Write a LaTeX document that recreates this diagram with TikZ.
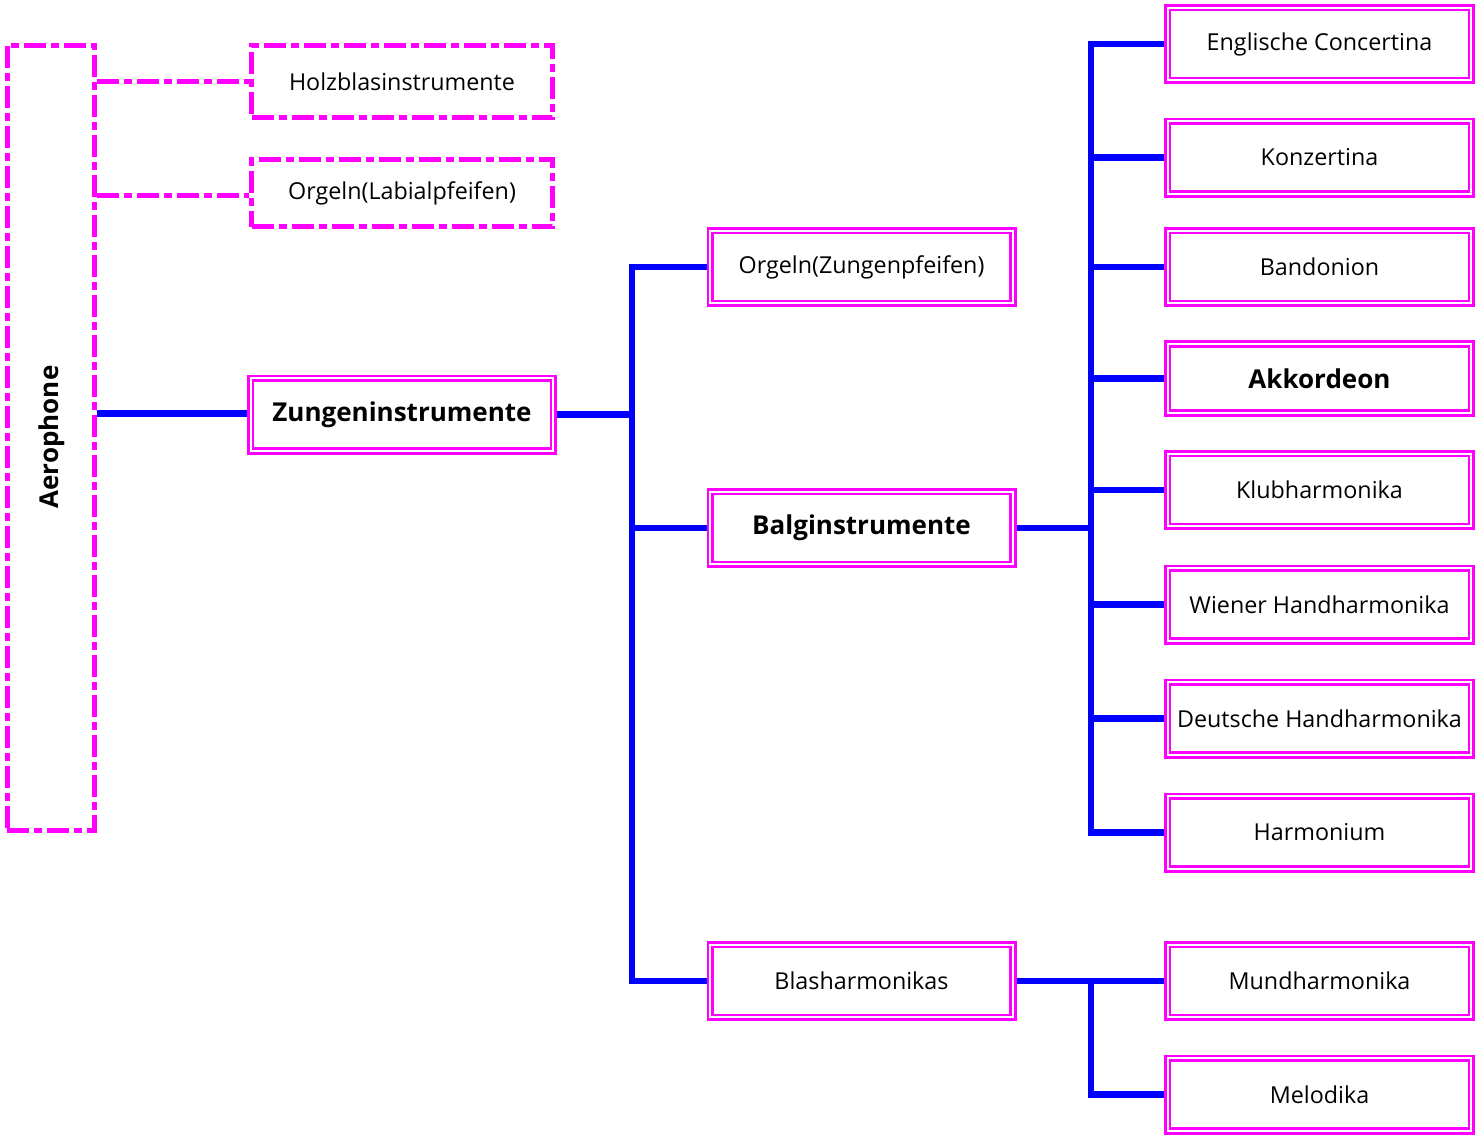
\documentclass[tikz,border=0pt]{standalone}
\usepackage{fontspec}
\setmainfont{Open Sans}
\usetikzlibrary{backgrounds}
\definecolor{boxpink}{HTML}{FF00FF}
\definecolor{linkblue}{HTML}{0000FF}
\begin{document}
\begin{tikzpicture}[x=1pt,y=-1pt,
  every node/.style={inner sep=0pt, align=center},
  dashbox/.style={draw=boxpink, line width=5pt, rectangle, fill=white,
    dash pattern=on 22pt off 5pt on 8pt off 5pt, minimum width=301pt},
  dashlink/.style={draw=boxpink, line width=5pt,
    dash pattern=on 22pt off 5pt on 8pt off 5pt},
  dbox/.style={draw=boxpink, double=white, line width=2.6pt, double distance=2pt,
    rectangle, fill=white, minimum width=302.8pt, minimum height=72.8pt,
    font=\fontsize{23.3}{28}\selectfont},
  boldbox/.style={dbox, font=\fontsize{26}{30}\selectfont\bfseries},
  rightbox/.style={dbox, minimum width=303.8pt},
  link/.style={draw=linkblue, line width=6.8pt, line join=miter}]
\useasboundingbox (0,0) rectangle (1476,1136);

% root and the two dashed branches
\node[dashbox, minimum width=87pt, minimum height=785pt] (aero) at (50.5,437.5) {};
\node[rotate=90, font=\fontsize{26}{30}\selectfont\bfseries] (aerolabel) at (52,437) {Aerophone};
\node[dashbox, minimum height=72pt, font=\fontsize{23.3}{28}\selectfont] (holz) at (402,81.5) {Holzblasinstrumente};
\node[dashbox, minimum height=67pt, font=\fontsize{23.3}{28}\selectfont] (orgl) at (402,193) {Orgeln(Labialpfeifen)};

% first level
\node[boldbox] (zung) at (402,414.5) {Zungeninstrumente};

% second level
\node[dbox] (orgz) at (861.5,267) {Orgeln(Zungenpfeifen)};
\node[boldbox] (balg) at (861.5,528) {Balginstrumente};
\node[dbox] (blas) at (861.5,981) {Blasharmonikas};

% third level
\node[rightbox] (engl) at (1319.5,44) {Englische Concertina};
\node[rightbox] (konz) at (1319.5,157.5) {Konzertina};
\node[rightbox] (band) at (1319.5,267) {Bandonion};
\node[boldbox, minimum width=303.8pt, minimum height=69pt] (akk) at (1319.5,378.5) {Akkordeon};
\node[rightbox] (klub) at (1319.5,490) {Klubharmonika};
\node[rightbox] (wien) at (1319.5,604.5) {Wiener Handharmonika};
\node[rightbox] (deut) at (1319.5,718.5) {Deutsche Handharmonika};
\node[rightbox] (harm) at (1319.5,832.5) {Harmonium};
\node[rightbox] (mund) at (1319.5,981) {Mundharmonika};
\node[rightbox] (melo) at (1319.5,1094.5) {Melodika};

% junction columns
\coordinate (j1) at (632,0);
\coordinate (j2) at (1091,0);
\coordinate (ly) at (0,195);
\coordinate (zy) at (0,413.5);

\begin{scope}[on background layer]
  % dashed links from the root
  \draw[dashlink] (aero.east |- holz.west) -- (holz.west);
  \draw[dashlink] (aero.east |- ly) -- (orgl.west |- ly);

  % root to Zungeninstrumente
  \draw[link] (aero.east |- zy) -- (zung.west |- zy);

  % Zungeninstrumente to its three branches
  \draw[link] (zung.east) -- (j1 |- zung.east);
  \draw[link] (orgz.west) -- (j1 |- orgz.west) -- (j1 |- blas.west) -- (blas.west);
  \draw[link] (j1 |- balg.west) -- (balg.west);

  % Balginstrumente to its eight branches
  \draw[link] (balg.east) -- (j2 |- balg.east);
  \draw[link] (engl.west) -- (j2 |- engl.west) -- (j2 |- harm.west) -- (harm.west);
  \foreach \n in {konz,band,akk,klub,wien,deut}
    \draw[link] (j2 |- \n.west) -- (\n.west);

  % Blasharmonikas to its two branches
  \draw[link] (blas.east) -- (j2 |- blas.east);
  \draw[link] (mund.west) -- (j2 |- mund.west) -- (j2 |- melo.west) -- (melo.west);
\end{scope}
\end{tikzpicture}
\end{document}
